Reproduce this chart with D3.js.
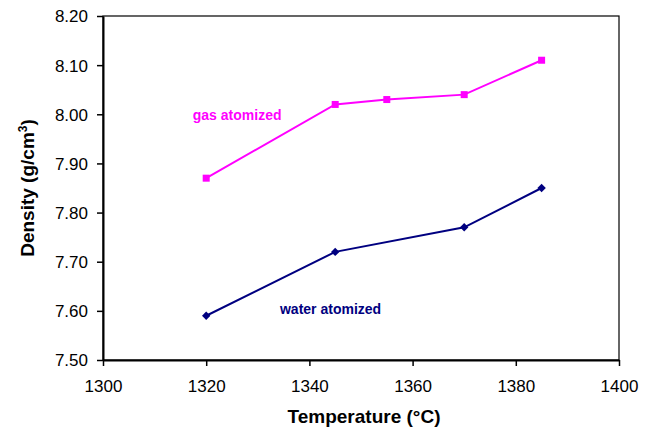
<!DOCTYPE html>
<html><head><meta charset="utf-8">
<script src="https://cdn.jsdelivr.net/npm/d3@7"></script>
<style>html,body{margin:0;padding:0;background:#fff;}svg{display:block;font-family:"Liberation Sans",Arial,sans-serif;}</style>
</head><body>
<svg id="c" width="652" height="429"></svg>
<script>
const gasTemps = [1320, 1345, 1355, 1370, 1385];
const gasDensity = [7.87, 8.02, 8.03, 8.04, 8.11];
const waterTemps = [1320, 1345, 1370, 1385];
const waterDensity = [7.59, 7.72, 7.77, 7.85];
const xTicks = [1300, 1320, 1340, 1360, 1380, 1400];
const yTicks = [7.5, 7.6, 7.7, 7.8, 7.9, 8.0, 8.1, 8.2];

const svg = d3.select("#c");
const L = 103, R = 619, T = 16, B = 360;
const x = d3.scaleLinear().domain([1300, 1400]).range([L, R]);
const y = d3.scaleLinear().domain([7.5, 8.2]).range([B, T]);

// frame
svg.append("rect").attr("x", L).attr("y", T).attr("width", R - L).attr("height", B - T)
  .attr("fill", "none").attr("stroke", "#000").attr("stroke-width", 1.2);

const xa = svg.append("g").attr("transform", `translate(0,${B})`)
  .call(d3.axisBottom(x).tickValues(xTicks).tickFormat(d3.format("d")).tickSize(6).tickSizeOuter(0));
const ya = svg.append("g").attr("transform", `translate(${L},0)`)
  .call(d3.axisLeft(y).tickValues(yTicks).tickFormat(d3.format(".2f")).tickSize(6).tickSizeOuter(0));
[xa, ya].forEach(a => {
  a.select(".domain").attr("stroke", "#000").attr("stroke-width", 2);
  a.selectAll(".tick line").attr("stroke", "#000").attr("stroke-width", 1.5);
  a.selectAll("text").attr("fill", "#000").style("font-size", "17px").style("font-family", '"Liberation Sans",Arial,sans-serif');
});
xa.selectAll("text").attr("dy", null).attr("y", 0).attr("transform", "translate(0,32)");
ya.selectAll("text").attr("x", -15).attr("dy", "0.35em");

// series
const gas = gasTemps.map((t, i) => [t, gasDensity[i]]);
const water = waterTemps.map((t, i) => [t, waterDensity[i]]);
const line = d3.line().x(d => x(d[0])).y(d => y(d[1]));

svg.append("path").datum(gas).attr("d", line).attr("fill", "none").attr("stroke", "#FF00FF").attr("stroke-width", 2);
svg.append("path").datum(water).attr("d", line).attr("fill", "none").attr("stroke", "#000080").attr("stroke-width", 2);

svg.selectAll(".sq").data(gas).enter().append("rect")
  .attr("x", d => x(d[0]) - 3.5).attr("y", d => y(d[1]) - 3.5).attr("width", 7).attr("height", 7).attr("fill", "#FF00FF");
svg.selectAll(".dm").data(water).enter().append("path")
  .attr("d", d3.symbol().type(d3.symbolDiamond2).size(45))
  .attr("transform", d => `translate(${x(d[0])},${y(d[1])})`).attr("fill", "#000080");

// series labels
svg.append("text").attr("x", x(1317.4)).attr("y", y(7.988)).attr("fill", "#FF00FF")
  .style("font-size", "14px").style("font-weight", "bold").text("gas atomized");
svg.append("text").attr("x", x(1334.3)).attr("y", y(7.594)).attr("fill", "#000080")
  .style("font-size", "14px").style("font-weight", "bold").text("water atomized");

// axis titles
svg.append("text").attr("x", 364).attr("y", 423).attr("text-anchor", "middle")
  .style("font-size", "19px").style("font-weight", "bold").text("Temperature (°C)");
const yt = svg.append("text").attr("transform", `translate(34,${(T + B) / 2}) rotate(-90)`).attr("text-anchor", "middle")
  .style("font-size", "19px").style("font-weight", "bold");
yt.append("tspan").text("Density (g/cm");
yt.append("tspan").attr("dy", -7).style("font-size", "12px").text("3");
yt.append("tspan").attr("dy", 7).text(")");
</script>
</body></html>
